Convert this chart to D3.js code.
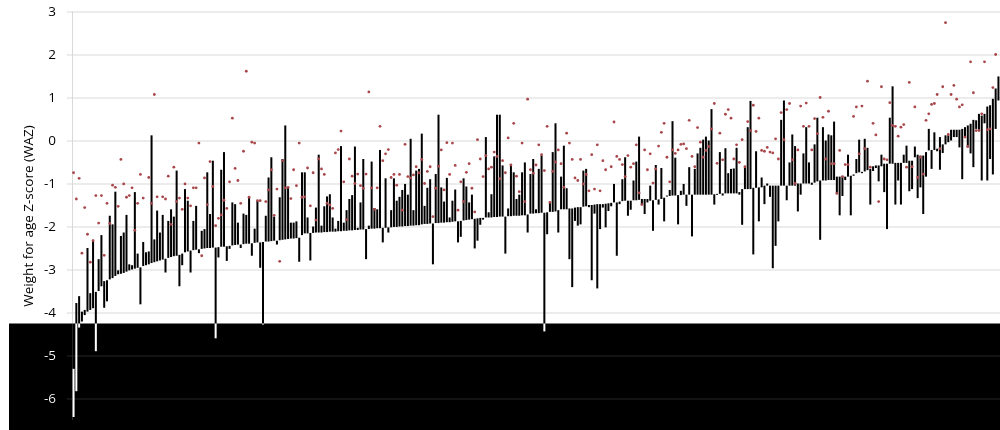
<!DOCTYPE html>
<html><head><meta charset="utf-8">
<script src="https://cdn.jsdelivr.net/npm/d3@7"></script>
<style>html,body{margin:0;padding:0;background:#fff;} svg{display:block;}</style>
</head><body>
<svg id="chart" width="1000" height="430"></svg>
<script>
// Sorted baseline WAZ per child (lower envelope), left to right
const startWAZ = [
-6.43,-5.83,-4.35,-4.21,-4.06,-3.98,-3.94,-3.9,-3.52,-3.5,
-3.39,-3.27,-3.25,-3.23,-3.2,-3.15,-3.11,-3.1,-3.08,-3.05,
-3.02,-3.0,-2.98,-2.96,-2.95,-2.92,-2.9,-2.88,-2.85,-2.83,
-2.81,-2.79,-2.77,-2.75,-2.73,-2.71,-2.69,-2.68,-2.66,-2.63,
-2.6,-2.58,
-2.56,-2.55,-2.54,-2.53,-2.52,-2.51,-2.5,-2.5,-2.49,-2.49,
-2.48,-2.47,-2.47,-2.46,-2.45,-2.44,-2.43,-2.42,-2.42,-2.41,
-2.4,-2.4,-2.39,-2.38,-2.37,-2.37,-2.36,-2.35,-2.35,-2.34,
-2.33,-2.33,-2.32,-2.31,-2.3,-2.29,-2.28,-2.28,-2.27,-2.26,
-2.2,
-2.16,-2.16,-2.15,-2.15,-2.14,-2.14,-2.14,-2.13,-2.13,-2.12,
-2.12,-2.12,-2.11,-2.11,-2.1,-2.1,-2.09,-2.09,-2.08,-2.08,
-2.07,-2.07,-2.06,-2.06,-2.05,-2.05,-2.04,-2.04,-2.03,-2.03,
-2.02,-2.02,-2.01,-2.01,-2.0,-2.0,-1.99,-1.99,-1.98,-1.98,
-1.97,-1.97,
-1.95,-1.94,-1.94,-1.93,-1.93,-1.92,-1.92,-1.91,-1.91,-1.9,
-1.9,-1.89,-1.88,-1.88,-1.87,-1.86,-1.85,-1.84,-1.83,-1.82,
-1.81,-1.8,-1.8,-1.79,-1.79,-1.79,-1.78,-1.78,-1.77,-1.77,
-1.77,-1.76,-1.76,-1.75,-1.75,-1.75,-1.74,-1.74,-1.72,-1.7,
-1.7,
-1.69,-1.69,-1.68,-1.68,-1.67,-1.66,-1.66,-1.65,-1.62,-1.6,
-1.6,-1.6,-1.58,-1.58,-1.56,-1.55,-1.55,-1.54,-1.53,-1.5,
-1.5,-1.49,-1.48,-1.48,-1.48,-1.47,-1.46,-1.45,-1.44,-1.44,
-1.42,-1.41,-1.4,-1.4,-1.4,-1.39,-1.39,-1.38,-1.36,-1.36,
-1.36,
-1.4,-1.39,-1.38,-1.37,-1.36,-1.33,-1.3,-1.29,-1.28,-1.28,
-1.27,-1.27,-1.26,-1.26,-1.26,-1.26,-1.26,-1.26,-1.26,-1.26,
-1.26,-1.26,-1.26,-1.25,-1.25,-1.24,-1.23,-1.23,-1.23,-1.23,
-1.23,-1.23,-1.2,-1.13,-1.13,-1.13,-1.13,-1.1,-1.1,-1.09,
-1.09,
-1.05,-1.05,-1.05,-1.05,-1.05,-1.05,-1.05,-1.05,-1.05,-1.05,
-1.05,-1.05,-1.0,-1.0,-1.0,-1.0,-1.0,-0.98,-0.98,-0.95,
-0.93,-0.93,-0.93,-0.92,-0.92,-0.92,-0.84,-0.84,-0.84,-0.84,
-0.84,-0.82,-0.79,-0.76,-0.74,-0.73,-0.72,-0.69,-0.66,-0.6,
-0.58,-0.58,
-0.6,-0.54,-0.54,-0.54,-0.54,-0.52,-0.52,-0.52,-0.52,-0.52,
-0.47,-0.47,-0.39,-0.33,-0.35,-0.35,-0.27,-0.23,-0.22,-0.22,
-0.19,0.08,-0.09,0.12,0.12,0.25,0.25,0.25,0.25,0.27,
0.31,0.35,0.39,0.48,0.47,0.62,0.58,0.62,0.79,0.82,
0.97,1.21,1.49
];

// Other end of each bar (follow-up WAZ)
const endWAZ = [
-5.31,-3.78,-3.62,-3.98,-3.94,-2.5,-3.55,-2.31,-4.9,-2.76,
-2.2,-3.89,-3.74,-1.75,-1.95,-1.19,-3.02,-2.22,-2.14,-1.73,
-2.88,-2.9,-1.2,-2.63,-3.81,-2.36,-2.6,-2.58,0.12,-2.3,
-1.63,-2.14,-1.73,-3.07,-1.87,-1.6,-1.77,-0.7,-3.39,-2.9,
-1.13,-1.4,
-3.07,-1.87,-1.52,-2.62,-2.1,-2.06,-0.74,-1.71,-0.47,-4.6,
-2.72,-0.68,-0.27,-2.8,-2.52,-1.44,-1.48,-1.91,-2.5,-1.7,
-1.73,-1.32,-2.68,-2.05,-1.4,-2.96,-4.28,-1.75,-0.86,-0.39,
-1.77,-2.42,-1.32,-0.43,0.35,-1.09,-1.91,-1.91,-1.88,-2.82,
-0.74,
-0.74,-1.79,-2.79,-2.0,-1.56,-0.33,-1.98,-1.53,-1.3,-1.25,
-1.79,-2.05,-1.87,-0.13,-1.91,-1.62,-1.36,-1.27,-0.14,-2.03,
-1.44,-0.43,-2.76,-1.98,-0.49,-1.57,-1.6,-0.22,-2.37,-0.88,
-2.14,-1.62,-0.88,-1.4,-1.31,-1.15,-1.01,-1.26,0.04,-1.62,
-0.7,-0.66,
0.16,-1.52,-1.1,-0.9,-2.88,-0.78,0.6,-1.09,-1.42,-0.87,
-1.79,-1.4,-1.14,-2.37,-2.24,-0.88,-1.07,-1.44,-1.26,-2.51,
-2.33,-1.96,-1.84,0.08,-1.67,-1.25,-0.37,0.6,0.6,-0.58,
-2.63,-1.58,-0.58,-0.74,-1.36,-1.26,-0.74,-0.51,-2.14,-0.78,
-0.43,
-1.6,-0.66,-0.35,-4.44,-2.18,-1.44,-0.27,0.4,-2.14,-0.84,
-0.12,-1.11,-2.76,-3.41,-1.87,-1.98,-1.95,-0.7,-0.66,-1.55,
-3.25,-1.7,-3.44,-2.06,-1.56,-2.02,-1.64,-1.53,-1.01,-2.68,
-1.48,-0.9,-0.39,-1.75,-1.61,-0.93,-0.49,0.09,-1.49,-1.71,
-1.44,
-1.05,-2.1,-0.57,-1.49,-0.64,-1.88,-1.28,-1.15,0.45,-0.4,
-1.95,-1.17,-1.01,-1.52,-0.62,-2.23,-0.66,-0.3,-0.17,0.02,
0.09,0.0,0.73,-1.49,-1.24,-0.27,-1.28,-0.18,-0.76,-0.66,
-0.65,-0.17,-1.26,-1.96,-0.61,0.31,0.92,-2.65,-0.25,-1.88,
-0.86,
-1.48,-1.0,-1.31,-2.97,-2.45,-1.88,0.48,0.93,-1.39,-0.51,
0.14,-0.13,-1.65,-1.26,-0.3,0.31,-0.51,-1.03,-0.09,0.53,
-2.31,0.31,0.0,0.14,0.12,0.44,-1.23,-1.74,-1.29,-0.92,
-0.33,-1.74,-0.82,-0.43,0.02,-0.76,0.04,-0.17,-1.49,-0.71,
-0.64,-0.95,
-0.33,-1.2,-2.06,0.53,1.26,-1.49,-0.93,-1.49,-0.33,-0.12,
-1.18,-1.13,-0.14,-1.34,-1.09,-1.71,-0.84,0.27,-0.66,0.19,
-0.25,-0.68,-0.29,-0.09,-0.04,0.0,0.08,0.08,-0.16,-0.9,
0.08,-0.16,-0.3,-0.62,0.27,0.25,-0.93,0.4,-0.93,-0.43,
-0.79,0.27,0.93
];

// Red dots (third measurement); null = no dot
const dotWAZ = [
-0.75,-1.36,-0.88,-2.62,-1.56,-2.18,-2.83,-2.33,-1.28,-1.92,
-1.28,-2.67,-1.46,-1.93,-1.04,-1.09,-1.53,-0.44,-1.01,-1.32,
-1.28,-1.1,-2.09,-1.46,-0.79,-1.34,null,-0.86,-1.46,1.07,
-1.31,null,-1.31,-1.36,-0.83,-1.95,-0.62,-1.42,-1.34,-1.6,
-1.01,-1.34,
-1.52,-1.1,-1.1,-0.06,-2.68,-0.87,-1.49,-0.49,-1.07,-1.98,
-1.81,-1.73,-1.39,-1.58,-0.96,0.52,-0.65,-0.93,-1.46,-0.25,
1.61,-1.32,-0.04,-0.06,-1.4,-1.4,null,-1.42,-1.15,-0.68,
-1.74,-1.13,-2.81,-0.47,-1.1,-1.09,-1.35,-0.68,-1.05,-0.06,
-1.32,
-1.31,-0.64,-1.52,-0.75,-1.85,-0.43,-0.66,-0.79,-1.46,-1.5,
-1.58,-0.29,-0.21,0.22,-0.96,-1.84,-0.43,-0.83,-1.0,-0.78,
-1.05,-1.11,-0.78,1.13,-1.1,-1.6,-1.1,0.33,-0.47,-0.31,
-0.21,-0.86,-0.79,-1.04,-0.79,-1.62,-0.09,-0.84,-0.87,-0.8,
-0.61,-0.75,
-0.44,-1.0,-0.72,-0.61,-1.77,-1.11,-0.6,-0.22,-1.15,-0.05,
-0.79,-0.06,-0.58,-1.62,-0.96,-1.42,-0.74,-0.54,-1.11,-1.66,
0.02,-0.43,-0.84,-0.35,-0.66,-0.62,-0.27,-0.37,-0.89,-0.47,
-0.75,0.06,-0.57,0.4,-0.83,-1.19,-0.06,-1.42,0.96,-0.68,
-0.76,
-0.57,-0.1,-0.33,-0.7,0.33,-1.44,-0.72,-0.5,-0.22,-0.54,
-1.09,0.17,-0.06,-0.44,-0.87,-0.93,-0.44,-1.01,-0.79,-1.17,
-0.33,-1.13,-0.1,-1.17,-0.47,-0.68,null,-0.61,0.43,-0.37,
-0.44,-0.56,-0.84,-0.35,-0.62,-0.54,-0.1,-1.22,-1.49,-0.22,
-0.68,
-0.31,-0.99,-0.66,-0.13,0.19,0.4,-0.39,-0.96,-0.22,-0.3,
-0.22,-0.09,-0.08,-0.19,0.47,-0.37,-0.61,0.3,-0.04,-0.39,
-0.23,-0.14,0.27,0.86,-0.53,0.17,-0.45,0.61,0.72,0.52,
-0.43,-0.1,-0.51,0.02,-0.61,0.44,0.23,0.82,0.21,0.52,
-0.23,
-0.25,-0.16,-0.27,-0.29,0.04,-0.43,0.65,0.02,0.72,0.86,
-0.45,-1.0,-0.22,0.8,0.33,0.87,0.33,-0.22,0.51,0.16,
1.0,0.54,-0.43,0.68,-0.54,-0.54,-1.23,-0.23,-0.84,-0.56,
-0.56,null,0.56,0.78,-0.31,0.8,-0.19,1.38,-0.62,0.4,
0.13,-1.42,
1.25,-0.43,-0.45,0.88,0.35,0.33,0.1,0.31,0.37,-0.62,
1.35,-0.61,0.78,-0.86,-0.39,-0.78,0.47,0.62,0.84,0.86,
1.07,-0.19,1.25,2.74,0.14,1.07,1.28,0.96,0.78,0.83,
0.08,-0.14,1.83,1.11,0.23,0.23,0.62,1.83,0.25,0.27,
1.23,2.0,null
];

const yTicks = [-6,-5,-4,-3,-2,-1,0,1,2,3];
const yTitle = "Weight for age Z-score (WAZ)";

const W = 1000, H = 430;
const svg = d3.select("#chart");
svg.append("rect").attr("width", W).attr("height", H).attr("fill", "#fff");

const x = d3.scaleBand().domain(d3.range(startWAZ.length)).range([72, 1000]).paddingInner(0.28).paddingOuter(0.2);
const y = d3.scaleLinear().domain([-6.5, 3]).range([420, 11.5]);

// axis with gridlines
const axis = d3.axisLeft(y).tickValues(yTicks).tickFormat(d => String(d))
  .tickSizeInner(-(1000 - 67)).tickSizeOuter(0).tickPadding(11);
const gAxis = svg.append("g").attr("transform", "translate(67,0)").call(axis);
gAxis.select(".domain").remove();
gAxis.selectAll(".tick line").attr("stroke", "#d9d9d9").attr("stroke-width", 1);
gAxis.selectAll(".tick text").attr("fill", "#000").style("font-family", "'Open Sans', sans-serif").style("font-size", "13.5px");

// vertical axis line
svg.append("line").attr("x1", 72.5).attr("x2", 72.5).attr("y1", y(3)).attr("y2", y(-6.5)).attr("stroke", "#d9d9d9");

// bars
svg.append("g").selectAll("rect").data(startWAZ).join("rect")
  .attr("x", (d, i) => x(i))
  .attr("width", x.bandwidth())
  .attr("y", (d, i) => y(Math.max(d, endWAZ[i])))
  .attr("height", (d, i) => Math.max(1, Math.abs(y(d) - y(endWAZ[i]))))
  .attr("fill", "#000");

// dots
svg.append("g").selectAll("circle").data(dotWAZ.map((v, i) => ({v, i})).filter(d => d.v !== null)).join("circle")
  .attr("cx", d => x(d.i) + x.bandwidth() / 2)
  .attr("cy", d => y(d.v))
  .attr("r", 1.4)
  .attr("fill", "#a8464a");

// y title
svg.append("text")
  .attr("transform", "translate(33,216) rotate(-90)")
  .attr("text-anchor", "middle")
  .style("font-family", "'Open Sans', sans-serif")
  .style("font-size", "13.5px")
  .attr("fill", "#000")
  .text(yTitle);

// inverted band at the bottom
svg.append("rect").attr("x", 9).attr("y", 323.5).attr("width", 991).attr("height", 107)
  .attr("fill", "#fff").style("mix-blend-mode", "difference");
</script>
</body></html>
